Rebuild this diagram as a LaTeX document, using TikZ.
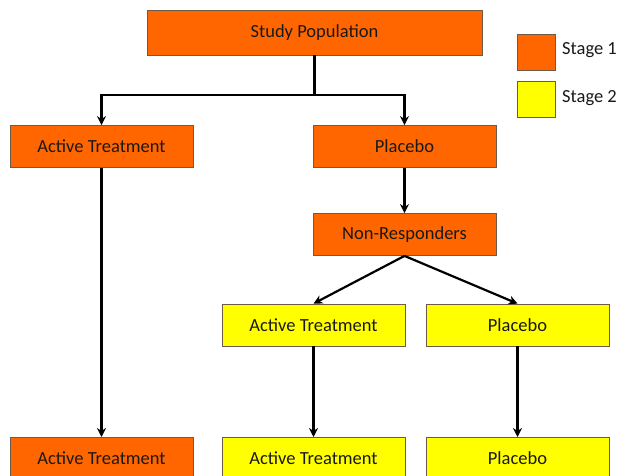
\documentclass[tikz,border=0pt]{standalone}
\usepackage{fontspec}
\setmainfont{Carlito}
\usetikzlibrary{arrows.meta}
\definecolor{stageone}{RGB}{255,102,0}
\definecolor{stagetwo}{RGB}{255,255,0}
\definecolor{boxline}{RGB}{110,90,70}
\begin{document}
\begin{tikzpicture}[x=1pt,y=-1pt,
  boxbase/.style={draw=boxline, line width=0.8pt, minimum width=183pt, minimum height=42pt, inner sep=0pt, font=\fontsize{18.5}{21}\selectfont, text=black!90},
  orangebox/.style={boxbase, fill=stageone},
  yellowbox/.style={boxbase, fill=stagetwo},
  legendbox/.style={draw=boxline, line width=0.8pt, minimum width=38pt, minimum height=36pt, inner sep=0pt},
  legendtext/.style={anchor=west, inner sep=0pt, font=\fontsize{18.5}{21}\selectfont, text=black!90},
  conn/.style={line width=2.2pt, -{Stealth[length=9pt,width=9pt]}},
  plain/.style={line width=2.2pt}]
\useasboundingbox (0,0) rectangle (618,476);
\begin{scope}
\clip (0,0) rectangle (618,476);
% nodes
\node[orangebox, minimum width=335pt, minimum height=45pt] (sp) at (314.5,32.5) {Study Population};
\node[orangebox] (at1) at (101.5,146.5) {Active Treatment};
\node[orangebox] (pl1) at (404.5,146.5) {Placebo};
\node[orangebox] (nr) at (404.5,234.5) {Non-Responders};
\node[yellowbox] (at2) at (313.5,325) {Active Treatment};
\node[yellowbox] (pl2) at (517.5,325) {Placebo};
\node[orangebox, anchor=north] (at3) at (101.5,437) {Active Treatment};
\node[yellowbox, anchor=north] (at4) at (313.5,437) {Active Treatment};
\node[yellowbox, anchor=north] (pl3) at (517.5,437) {Placebo};
% legend
\node[legendbox, fill=stageone] (lg1) at (536,52) {};
\node[legendbox, fill=stagetwo] (lg2) at (536,99.5) {};
\node[legendtext] (lt1) at (562,50) {Stage 1};
\node[legendtext] (lt2) at (562,98) {Stage 2};
% connectors
\coordinate (split) at (314.5,95);
\draw[plain] (sp.south) -- (split);
\draw[conn] (split) -| (at1.north);
\draw[conn] (split) -| (pl1.north);
\draw[conn] (at1.south) -- (at3.north);
\draw[conn] (pl1.south) -- (nr.north);
\draw[conn] (nr.south) -- (at2.north);
\draw[conn] (nr.south) -- (pl2.north);
\draw[conn] (at2.south) -- (at4.north);
\draw[conn] (pl2.south) -- (pl3.north);
\end{scope}
\end{tikzpicture}
\end{document}
